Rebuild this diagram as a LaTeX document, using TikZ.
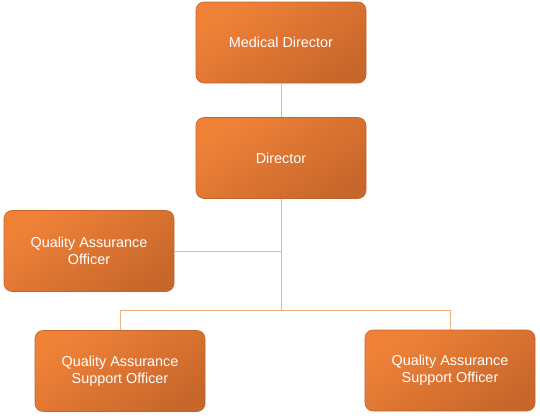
\documentclass[tikz,border=0pt]{standalone}
\usepackage{fontspec}
\setmainfont{Liberation Sans}
\usepackage{xcolor}
\definecolor{boxlight}{HTML}{F08238}
\definecolor{boxdark}{HTML}{C8672B}
\definecolor{boxline}{HTML}{C2662C}
\definecolor{linkline}{HTML}{F4B183}
\begin{document}
\begin{tikzpicture}[x=1pt,y=-1pt,
    post/.style={rounded corners=8pt, draw=boxline, line width=0.6pt,
        top color=boxlight, bottom color=boxdark, shading angle=35,
        minimum width=170pt, minimum height=81pt, text=white,
        align=center, font=\fontsize{14.4}{17}\selectfont, inner sep=2pt},
    link/.style={draw=linkline, line width=1pt}]
    \useasboundingbox (0,0) rectangle (540,418);
    \node[post] (md) at (281,42.5) {Medical Director};
    \node[post] (dir) at (281,158) {Director};
    \node[post] (qao) at (89,251) {Quality Assurance\\Officer};
    \node[post] (qas1) at (120,371) {Quality Assurance\\Support Officer};
    \node[post] (qas2) at (450,370.5) {Quality Assurance\\Support Officer};
    \coordinate (J) at (281,310);
    \draw[link] (md.south) -- (dir.north);
    \draw[link] (dir.south) -- (J);
    \draw[link] (qao.east) -- (qao.east -| J);
    \draw[link] (qas1.north) -- (qas1.north |- J) -- (qas2.north |- J) -- (qas2.north);
\end{tikzpicture}
\end{document}
